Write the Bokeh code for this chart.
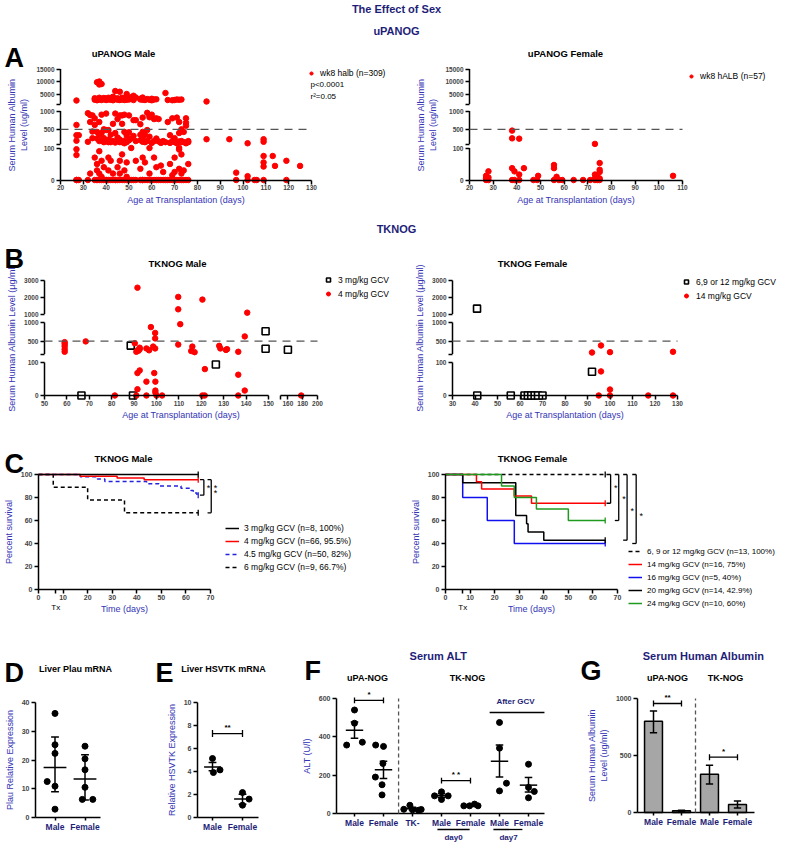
import math
from bokeh.plotting import figure
from bokeh.models import Label, Legend, LegendItem, FixedTicker, Arrow, Range1d
from bokeh.layouts import column, row
from bokeh.embed import file_html
from bokeh.resources import INLINE

FONT = "Liberation Sans"
NAVY = "#1e1e78"
BLUE = "#3434b4"
RED = "#ff0000"
GREEN = "#1f9a1f"
BAR_GREY = "#a6a6a6"
DASH_GREY = "#555555"

# ======================= DATA =======================
A_male_days = [27, 28, 32, 33, 34, 35, 36, 37, 38, 39, 40, 41, 42, 43, 44, 45, 46, 47, 48, 49,
               50, 51, 52, 53, 55, 56, 57, 58, 59, 60, 61, 62, 63, 64, 65, 66, 67, 68, 69, 70,
               71, 72, 73, 74, 75, 76, 84, 94, 97, 102, 105, 106, 109, 113, 114, 119, 125]
A_male_vals = [[2400, 620, 340, 190, 96, 78, 0, 0], [340, 0], [940, 160, 0], [890, 700, 20],
               [880, 440, 260], [2700, 3300, 800, 620, 70, 0], [3000, 2500, 9700, 430, 250, 50, 30, 0, 0],
               [10000, 8800, 3500, 2800, 700, 350, 180, 90, 20, 0], [9000, 3100, 2600, 900, 400, 200, 60, 10, 0],
               [2900, 3400, 500, 260, 150, 40, 0], [3200, 2600, 930, 480, 180, 0, 0],
               [3500, 2800, 480, 220, 150, 70, 30, 0], [3100, 2700, 350, 170, 150, 60, 0],
               [3900, 2500, 650, 180, 20, 0], [6200, 3000, 930, 400, 140, 0, 0], [3300, 2700, 780, 280, 40, 0],
               [5900, 3000, 2600, 880, 220, 150, 60, 20, 0], [3500, 2800, 880, 650, 150, 80, 0],
               [3000, 2600, 900, 430, 190, 120, 30, 0], [5000, 3300, 2700, 330, 150, 55, 10, 0],
               [3200, 2800, 880, 420, 200, 0], [3700, 3000, 250, 100, 0], [4300, 2600, 750, 320, 0],
               [3600, 750, 180, 60, 0], [3100, 2800, 640, 350, 200, 35, 0],
               [3600, 2700, 820, 430, 250, 160, 70, 0, 0], [2600, 350, 150, 55, 0], [3000, 950, 480, 180, 0],
               [2700, 880, 830, 300, 100, 20, 0], [3100, 2500, 900, 130, 0], [2800, 780, 180, 70, 0],
               [2900, 800, 250, 40, 0], [780, 170, 0], [130, 45, 0], [180, 25, 0], [5400, 150, 0],
               [2600, 700, 0], [340, 130, 50, 0], [2500, 800, 180, 15, 0], [2600, 260, 150, 70, 25, 0],
               [2800, 820, 120, 0], [2700, 700, 400, 170, 100, 95, 35, 0], [2800, 500, 180, 150, 80, 20, 0],
               [430, 150, 30, 0], [800, 680, 600, 140, 120, 0], [180, 150, 50, 0], [2000, 230], [230],
               [23, 0], [120, 12, 0], [0], [0], [230, 160, 75, 55, 42, 0], [75], [44], [60, 0], [44]]
A_female_days = [27, 28, 38, 39, 41, 43, 47, 48.6, 49, 55.7, 56.8, 57.8, 59.2, 64, 68, 71, 73, 74, 75, 106]
A_female_vals = [[13, 5, 0], [27, 8, 0], [465, 254, 37, 0], [27, 0], [246, 17, 0], [37], [0], [0], [13],
                 [47, 37, 0], [10], [0], [0], [0], [0], [0], [103, 17, 5, 0], [10, 0], [53, 32, 25, 5, 0], [13]]
A_y_labels = [0, 100, 500, 1000, 5000, 10000, 15000]
A_male_x_ticks = list(range(20, 131, 10))
A_female_x_ticks = list(range(20, 111, 10))

B_male4_days = [59, 59, 59, 59, 59, 68.4, 90.3, 91, 91.5, 92.5, 92.5, 92, 95.5, 96.7, 97.5, 98.5, 99.4, 99.4,
                99.4, 109.7, 109.7, 110.6, 109.7, 91.5, 120.5, 140.5, 139.4, 115.5, 116, 117, 128, 128.5,
                131, 131.5, 136.5, 91.5, 92.5, 95.5, 99, 99.5, 91.5, 99.5, 99.5, 121.6, 136.5, 139.4,
                81.4, 91, 95.5, 100, 102.5, 120.5, 121.5, 136.5, 178]
B_male4_vals = [470, 420, 360, 280, 210, 490, 440, 210, 250, 320, 280, 240, 300, 250, 876, 350, 300, 718,
                571, 2020, 1280, 955, 403, 2570, 1860, 1080, 624, 230, 350, 200, 370, 300, 260, 280, 210,
                68, 76, 42, 68, 42, 19, 15, 9, 80, 63, 15, 0, 0, 0, 0, 0, 0, 0, 0, 0]
B_male3_days = [66.5, 89.5, 88.5, 126.5, 148.7, 148.7, 160]
B_male3_vals = [0, 0, 376, 94, 763, 290, 263]
B_femlow_days = [40.9, 41, 55.9, 62, 63.5, 65, 66.5, 68, 70, 92]
B_femlow_vals = [1320, 0, 0, 0, 0, 0, 0, 0, 0, 72]
B_fem14_days = [92, 96, 100, 128, 96, 100, 95, 100, 117, 128]
B_fem14_vals = [190, 380, 200, 210, 73, 18, 0, 0, 0, 0]
B_y_labels = [0, 100, 500, 1000, 2000, 3000]
B_male_x_labels = [50, 60, 70, 80, 90, 100, 110, 120, 130, 140, 150, 160, 180, 200]
B_female_x_ticks = list(range(30, 131, 10))

C_male_labels = ["3 mg/kg GCV (n=8, 100%)", "4 mg/kg GCV (n=66, 95.5%)",
                 "4.5 mg/kg GCV (n=50, 82%)", "6 mg/kg GCV (n=9, 66.7%)"]
C_male_times = [[0, 65], [0, 17, 32, 43, 65], [0, 17, 24, 27, 44, 49, 58, 62, 63, 64.5, 65], [0, 6, 20, 35, 65]]
C_male_surv = [[100, 100], [100, 98.5, 97, 95.5, 95.5], [100, 98, 96, 94, 92, 90, 88, 86, 84, 82, 82],
               [100, 88.9, 77.8, 66.7, 66.7]]
C_female_labels = ["6, 9 or 12 mg/kg GCV (n=13, 100%)", "14 mg/kg GCV (n=16, 75%)", "16 mg/kg GCV (n=5, 40%)",
                   "20 mg/kg GCV (n=14, 42.9%)", "24 mg/kg GCV (n=10, 60%)"]
C_female_times = [[0, 65], [0, 12.6, 14.7, 28, 35, 65], [0, 7, 17, 28, 65], [0, 7, 28.6, 33, 33.6, 40, 65],
                  [0, 22.8, 28, 37, 50, 65]]
C_female_surv = [[100, 100], [100, 93.75, 87.5, 81.25, 75, 75], [100, 80, 60, 40, 40],
                 [100, 92.9, 64.3, 57.1, 50, 42.9, 42.9], [100, 90, 80, 70, 60, 60]]
C_x_ticks = [0, 10, 20, 30, 40, 50, 60, 70]
C_y_ticks = [0, 20, 40, 60, 80, 100]

D_groups = ["Male", "Female"]
D_points = [[36.2, 25.3, 22.3, 12.5, 10.9, 2.9], [24.8, 20.4, 16.6, 10.5, 6.3, 6.3]]
D_jitter = [[0, 0, 0, -0.26, 0, 0], [0, 0, 0, 0, -0.09, 0.26]]
D_mean = [17.4, 13.4]
D_low = [9.0, 6.1]
D_high = [28.0, 21.8]

E_groups = ["Male", "Female"]
E_points = [[5.13, 3.91, 4.14], [2.17, 1.07, 1.6]]
E_jitter = [[0, 0.03, 0.25], [0, 0, 0.22]]
E_mean = [4.4, 1.6]
E_low = [4.06, 1.16]
E_high = [4.78, 2.03]

F_groups = ["Male", "Female", "TK-", "Male", "Female", "Male", "Female"]
F_points = [[540, 372, 357, 471], [357, 350, 261, 190, 150, 97], [43, 22, 19, 17, 21],
            [113, 92, 92, 73], [40, 40, 49, 40], [475, 341, 158, 118], [257, 136, 115, 82]]
F_jitter = [[0, 0.27, -0.27, 0.0], [-0.27, 0.0, -0.02, -0.28, -0.05, -0.05], [-0.09, -0.3, 0.0, 0.2, 0.3],
            [0, -0.24, 0.23, 0], [-0.23, -0.03, 0.14, 0.26], [0, 0, 0.24, 0], [0, 0, 0.2, 0]]
F_mean = [435, 228, 25, 93, 42, 273, 148]
F_low = [392, 183, 18, 83, 39, 190, 112]
F_high = [477, 273, 32, 103, 46, 357, 188]

G_groups = ["Male", "Female", "Male", "Female"]
G_mean = [800, 15, 335, 70]
G_low = [700, 10, 250, 40]
G_high = [890, 20, 415, 100]

# ======================= HELPERS =======================
A_SEGS = [(0, 100, 0, 32), (100, 1000, 36, 69), (1000, 15000, 76, 111)]
B_SEGS = [(0, 100, 0, 33), (150, 1000, 41.5, 73), (1000, 3000, 81.5, 115)]
BX_SEGS = [(50, 150, 0, 224), (150, 200, 236, 273)]


def seg_map(v, segs):
    for v0, v1, p0, p1 in segs:
        if v <= v1:
            return p0 + (v - v0) / (v1 - v0) * (p1 - p0)
    v0, v1, p0, p1 = segs[-1]
    return p0 + (v - v0) / (v1 - v0) * (p1 - p0)


def broken_ticks(segs, labels, extra=None):
    ticks = {}
    for v0, v1, p0, p1 in segs:
        ticks.setdefault(round(p0, 3), "")
        ticks.setdefault(round(p1, 3), "")
    for v in labels:
        ticks[round(seg_map(v, segs), 3)] = str(v)
    if extra:
        for k, t in extra.items():
            ticks[round(k, 3)] = t
    return ticks


def flatten(days, groups):
    xs, ys = [], []
    for d, vals in zip(days, groups):
        for v in vals:
            xs.append(d)
            ys.append(v)
    return xs, ys


class Frame:
    """Maps page pixel positions to data coordinates for a figure whose frame fills its canvas."""
    def __init__(self, X0, Y0, W, H, xmap, ymap):
        self.X0, self.Y1 = X0, Y0 + H
        v1, a1, v2, a2 = xmap
        self.sx = (a2 - a1) / (v2 - v1)
        self.x0 = v1 - (a1 - X0) / self.sx
        self.x1 = self.x0 + W / self.sx
        v1, b1, v2, b2 = ymap
        self.sy = (b1 - b2) / (v2 - v1)
        self.y0 = v1 - (self.Y1 - b1) / self.sy
        self.y1 = self.y0 + H / self.sy

    def fx(self, px):
        return self.x0 + (px - self.X0) / self.sx

    def fy(self, py):
        return self.y0 + (self.Y1 - py) / self.sy


def style_axis(ax, tick_size):
    ax.axis_line_width = 1.5
    ax.major_tick_line_width = 1.5
    ax.major_tick_in = 0
    ax.major_tick_out = 4
    ax.minor_tick_line_color = None
    ax.major_label_text_font = FONT
    ax.major_label_text_font_size = tick_size
    ax.major_label_text_font_style = "bold"
    ax.major_label_standoff = 2
    ax.axis_label_text_font = FONT
    ax.axis_label_text_font_size = "9px"
    ax.axis_label_text_font_style = "normal"
    ax.axis_label_text_color = BLUE
    ax.axis_label_standoff = 4


def make_fig(W, H, X0, Y0, xmap, ymap, tick_size="7px"):
    fr = Frame(X0, Y0, W, H, xmap, ymap)
    p = figure(width=W, height=H, x_range=Range1d(fr.x0, fr.x1), y_range=Range1d(fr.y0, fr.y1),
               min_border=0, output_backend="svg", toolbar_location=None, title=None)
    p.outline_line_color = None
    p.xgrid.visible = False
    p.ygrid.visible = False
    for ax in p.axis:
        style_axis(ax, tick_size)
    p.xaxis.major_label_standoff = 1
    p.xaxis.axis_label_standoff = 1
    return p, fr


def txt(p, fr, px, py, text, size="9px", bold=True, color="black", align="center", baseline="middle"):
    p.add_layout(Label(x=fr.fx(px), y=fr.fy(py), text=text, text_font=FONT,
                       text_font_size=size, text_font_style="bold" if bold else "normal",
                       text_color=color, text_align=align, text_baseline=baseline))


def letter(p, fr, px, py, text):
    txt(p, fr, px, py, text, size="27px", align="left", baseline="alphabetic")


def dtxt(p, x, y, text, dy=0, size="9px", bold=False, align="center"):
    p.add_layout(Label(x=x, y=y, y_offset=dy, text=text, text_font=FONT, text_font_size=size,
                       text_font_style="bold" if bold else "normal", text_color="black",
                       text_align=align, text_baseline="middle"))


def ln(p, x0, y0, x1, y1, color="black", width=1.5, dash="solid"):
    p.add_layout(Arrow(start=None, end=None, x_start=x0, y_start=y0, x_end=x1, y_end=y1,
                       line_color=color, line_width=width, line_dash=dash))


def set_ticks(ax, ticks_dict):
    keys = sorted(ticks_dict.keys())
    ax.ticker = FixedTicker(ticks=keys, minor_ticks=[])
    ax.major_label_overrides = {k: ticks_dict[k] for k in keys}


def broken_y(p, segs, ticks, x0):
    ax = p.yaxis[0]
    ax.axis_line_color = None
    set_ticks(ax, ticks)
    for v0, v1, p0, p1 in segs:
        ln(p, x0, p0, x0, p1)


def add_legend(p, items, location, size="8.5px", glyph_w=10, row_h=12):
    lg = Legend(items=items, location=location)
    lg.label_text_font = FONT
    lg.label_text_font_size = size
    lg.label_text_color = "black"
    lg.border_line_color = None
    lg.background_fill_alpha = 0
    lg.padding = 2
    lg.spacing = 1
    lg.margin = 0
    lg.glyph_width = glyph_w
    lg.glyph_height = row_h
    lg.label_height = row_h
    lg.label_standoff = 5
    p.add_layout(lg, "center")


def header(Y0, h, texts):
    fr = Frame(0, Y0, 792, h, (0, 0, 1, 1), (0, Y0 + h, 1, Y0 + h - 1))
    p = figure(width=792, height=h, x_range=Range1d(fr.x0, fr.x1), y_range=Range1d(fr.y0, fr.y1),
               min_border=0, output_backend="svg", toolbar_location=None, title=None,
               x_axis_location=None, y_axis_location=None)
    p.outline_line_color = None
    p.xgrid.visible = False
    p.ygrid.visible = False
    for t, px, py in texts:
        txt(p, fr, px, py, t, size="11px", color=NAVY)
    return p


AGE = "Age at Transplantation (days)"

h1 = header(0, 38, [("The Effect of Sex", 396, 8), ("uPANOG", 396, 30)])
h2 = header(213, 23, [("TKNOG", 396, 228)])


# ======================= A =======================
def panel_A(X0, W, xmap, xmax, xticks, days, vals, legend_label, legend_loc, title, title_x):
    p, fr = make_fig(W, 175, X0, 38, xmap, (0, 179.5, 111, 68.5), "6.5px")
    p.xaxis.fixed_location = 0
    p.xaxis.bounds = (20, xmax)
    p.yaxis.fixed_location = 20
    p.yaxis.bounds = (0, 111)
    set_ticks(p.xaxis[0], {v: str(v) for v in xticks})
    p.xaxis.axis_label = AGE
    p.yaxis.axis_label = "Serum Human Albumin\nLevel (ug/ml)"
    broken_y(p, A_SEGS, broken_ticks(A_SEGS, A_y_labels), 20)
    y500 = seg_map(500, A_SEGS)
    ln(p, 20, y500, xmax, y500, color=DASH_GREY, width=1.2, dash="8 6")
    xs, ys = flatten(days, vals)
    r = p.scatter(xs, [seg_map(v, A_SEGS) for v in ys], size=5.5, color=RED)
    add_legend(p, [LegendItem(label=legend_label, renderers=[r])], legend_loc, glyph_w=8)
    txt(p, fr, title_x, 53, title, size="9.5px")
    return p, fr


pAL, fAL = panel_A(0, 408, (20, 60, 130, 311), 130, A_male_x_ticks, A_male_days, A_male_vals,
                   "wk8 halb (n=309)", (307, 134), "uPANOG Male", 123)
letter(pAL, fAL, 4, 57, "A")
txt(pAL, fAL, 310, 84, "p<0.0001", size="8px", bold=False, align="left")
txt(pAL, fAL, 310, 96, "r\u00b2=0.05", size="8px", bold=False, align="left")
pAR, fAR = panel_A(408, 384, (20, 469, 110, 682), 110, A_female_x_ticks, A_female_days, A_female_vals,
                   "wk8 hALB (n=57)", (279, 131), "uPANOG Female", 565)

# ======================= B =======================
B_ticks = broken_ticks(B_SEGS, B_y_labels, {81.5: "1000"})


def panel_B(X0, W, xmap, x_axis_at, title, title_x):
    p, fr = make_fig(W, 186, X0, 236, xmap, (0, 395, 115, 280), "6.5px")
    p.xaxis.fixed_location = 0
    p.yaxis.fixed_location = x_axis_at
    p.yaxis.bounds = (0, 115)
    broken_y(p, B_SEGS, B_ticks, x_axis_at)
    p.xaxis.axis_label = AGE
    p.yaxis.axis_label = "Serum Human Albumin Level (\u03bcg/ml)"
    txt(p, fr, title_x, 263, title, size="9.5px")
    return p, fr


pBL, fBL = panel_B(0, 408, (0, 44, 273, 317), 0, "TKNOG Male", 177)
pBL.xaxis.axis_line_color = None
pBL.xaxis.bounds = (0, 273)
bx = {}
for v0, v1, p0, p1 in BX_SEGS:
    bx[round(p0, 3)] = ""
    bx[round(p1, 3)] = ""
for v in B_male_x_labels:
    bx[round(seg_map(v, BX_SEGS), 3)] = str(v)
set_ticks(pBL.xaxis[0], bx)
for v0, v1, p0, p1 in BX_SEGS:
    ln(pBL, p0, 0, p1, 0)
ln(pBL, 0, seg_map(500, B_SEGS), 273, seg_map(500, B_SEGS), color=DASH_GREY, width=1.2, dash="8 6")
rB3 = pBL.scatter([seg_map(d, BX_SEGS) for d in B_male3_days], [seg_map(v, B_SEGS) for v in B_male3_vals],
                  marker="square", size=7, fill_color="white", line_color="black", line_width=1.6)
rB4 = pBL.scatter([seg_map(d, BX_SEGS) for d in B_male4_days], [seg_map(v, B_SEGS) for v in B_male4_vals],
                  size=5.5, color=RED)
add_legend(pBL, [LegendItem(label="3 mg/kg GCV", renderers=[rB3]),
                 LegendItem(label="4 mg/kg GCV", renderers=[rB4])], (323, 122), row_h=13)
letter(pBL, fBL, 4, 258, "B")

pBR, fBR = panel_B(408, 384, (30, 452, 130, 677), 30, "TKNOG Female", 532)
pBR.xaxis.bounds = (30, 130)
set_ticks(pBR.xaxis[0], {v: str(v) for v in B_female_x_ticks})
ln(pBR, 30, seg_map(500, B_SEGS), 130, seg_map(500, B_SEGS), color=DASH_GREY, width=1.2, dash="8 6")
rB5 = pBR.scatter(B_femlow_days, [seg_map(v, B_SEGS) for v in B_femlow_vals],
                  marker="square", size=7, fill_color="white", line_color="black", line_width=1.6)
rB6 = pBR.scatter(B_fem14_days, [seg_map(v, B_SEGS) for v in B_fem14_vals], size=5.5, color=RED)
add_legend(pBR, [LegendItem(label="6,9 or 12 mg/kg GCV", renderers=[rB5]),
                 LegendItem(label="14 mg/kg GCV", renderers=[rB6])], (273, 120), size="8.5px", row_h=13)


# ======================= C =======================
def panel_C(X0, W, xmap, times, survs, colors, dashes, order, title, title_x):
    p, fr = make_fig(W, 193, X0, 422, xmap, (0, 589, 100, 474), "7px")
    p.xaxis.fixed_location = 0
    p.xaxis.bounds = (0, 70)
    p.yaxis.fixed_location = 0
    p.yaxis.bounds = (0, 100)
    xt = {v: str(v) for v in C_x_ticks}
    xt[7] = ""
    set_ticks(p.xaxis[0], xt)
    set_ticks(p.yaxis[0], {v: str(v) for v in C_y_ticks})
    p.xaxis.axis_label = "Time (days)"
    p.yaxis.axis_label = "Percent survival"
    rends = [None] * len(times)
    for i in order:
        rends[i] = p.step(times[i], survs[i], mode="after", line_color=colors[i],
                          line_width=1.5, line_dash=dashes[i])
        # censor tick at the end of each curve
        p.scatter([times[i][-1]], [survs[i][-1]], marker="dash", angle=math.pi / 2, size=6,
                  line_color=colors[i], line_width=1.3)
    txt(p, fr, xmap[1] + 7 * fr.sx, 607, "Tx", size="8px", bold=False)
    txt(p, fr, title_x, 458, title, size="9.5px")
    return p, fr, rends


def bracket(p, x_v, x_cap, top, bottom):
    ln(p, x_cap, top, x_v, top, width=1.3)
    ln(p, x_v, top, x_v, bottom, width=1.3)
    ln(p, x_cap, bottom, x_v, bottom, width=1.3)


pCL, fCL, rCL = panel_C(0, 408, (0, 38, 70, 210), C_male_times, C_male_surv,
                        ["black", RED, "#2323dd", "black"], ["solid", "solid", "4 3", "4 3"], [3, 2, 1, 0],
                        "TKNOG Male", 123)
bracket(pCL, 67.3, 65.7, 95.5, 82)
dtxt(pCL, 68.5, 88.5, "*", align="left")
bracket(pCL, 70.3, 68.8, 95.5, 66.7)
dtxt(pCL, 71.3, 88.5, "*", align="left")
dtxt(pCL, 71.3, 83.5, "*", align="left")
add_legend(pCL, [LegendItem(label=lab, renderers=[r]) for lab, r in zip(C_male_labels, rCL)],
           (225, 42), glyph_w=14, row_h=12)
letter(pCL, fCL, 4, 463, "C")

pCR, fCR, rCR = panel_C(408, 384, (0, 445, 70, 617), C_female_times, C_female_surv,
                        ["black", RED, "#1010ee", "black", GREEN], ["4 3", "solid", "solid", "solid", "solid"],
                        [0, 2, 3, 1, 4], "TKNOG Female", 532)
for xv, xc, bot, sx, sy in [(67.2, 65.5, 75, 68.6, 88), (70.5, 68.9, 60, 71.9, 79),
                            (73.9, 72.3, 42.9, 75.3, 68), (77.6, 76.0, 40, 79.0, 64)]:
    bracket(pCR, xv, xc, 100, bot)
    dtxt(pCR, sx, sy, "*", align="left")
add_legend(pCR, [LegendItem(label=lab, renderers=[r]) for lab, r in zip(C_female_labels, rCR)],
           (220, 6), size="8px", glyph_w=14, row_h=12)


# ======================= D / E / F =======================
def cat_axis(p, groups):
    set_ticks(p.xaxis[0], {i: g for i, g in enumerate(groups)})
    p.xaxis.major_label_text_color = NAVY
    p.xaxis.major_label_text_font_size = "8.5px"
    p.xaxis.major_tick_out = 3
    p.xaxis.major_label_standoff = 1


def dot_panel(X0, W, xmap, ymap, yaxis_x, xmax, ytop, yticks, groups, pts, jit, mean, lo, hi, half, ylabel):
    p, fr = make_fig(W, 232, X0, 615, xmap, ymap, "7px")
    p.xaxis.fixed_location = 0
    p.xaxis.bounds = (yaxis_x, xmax)
    p.yaxis.fixed_location = yaxis_x
    p.yaxis.bounds = (0, ytop)
    set_ticks(p.yaxis[0], {v: str(v) for v in yticks})
    cat_axis(p, groups)
    p.yaxis.axis_label = ylabel
    for i in range(len(groups)):
        p.scatter([i + j for j in jit[i]], pts[i], size=6, color="black")
    xi = list(range(len(groups)))
    p.segment([i - half for i in xi], mean, [i + half for i in xi], mean, line_color="black", line_width=1.5)
    p.segment(xi, lo, xi, hi, line_color="black", line_width=1.5)
    p.segment([i - 0.13 for i in xi], lo, [i + 0.13 for i in xi], lo, line_color="black", line_width=1.5)
    p.segment([i - 0.13 for i in xi], hi, [i + 0.13 for i in xi], hi, line_color="black", line_width=1.5)
    return p, fr


pD, fD = dot_panel(0, 155, (0, 54.5, 1, 84.5), (0, 817, 40, 702), -0.65, 1.52, 40, [0, 10, 20, 30, 40],
                   D_groups, D_points, D_jitter, D_mean, D_low, D_high, 0.38, "Plau Relative Expression")
letter(pD, fD, 4, 672, "D")
txt(pD, fD, 75, 668, "Liver Plau mRNA", size="9px")

pE, fE = dot_panel(155, 145, (0, 212, 1, 242), (0, 817, 10, 702), -0.5, 1.53, 10, [0, 2, 4, 6, 8, 10],
                   E_groups, E_points, E_jitter, E_mean, E_low, E_high, 0.28, "Relative HSVTK Expression")
pE.segment([0, 0, 1], [7.3, 7.0, 7.0], [1, 0, 1], [7.3, 7.6, 7.6], line_color="black", line_width=1.3)
dtxt(pE, 0.5, 7.3, "**", dy=6, size="8px", bold=True)
letter(pE, fE, 155, 672, "E")
txt(pE, fE, 223, 668, "Liver HSVTK mRNA", size="9px")

pF, fF = dot_panel(300, 270, (0, 354, 1, 383), (0, 813, 600, 698), -0.62, 6.55, 600, [0, 200, 400, 600],
                   F_groups, F_points, F_jitter, F_mean, F_low, F_high, 0.3, "ALT (U/l)")
ln(pF, 1.52, 0, 1.52, 600, color=DASH_GREY, width=1.3, dash="4 3")
pF.segment([0, 0, 1, 3, 3, 4], [590, 575, 575, 172, 157, 157], [1, 0, 1, 4, 3, 4], [590, 605, 605, 172, 187, 187],
           line_color="black", line_width=1.3)
dtxt(pF, 0.5, 590, "*", dy=6, size="8px", bold=True)
dtxt(pF, 3.5, 172, "* *", dy=6, size="8px", bold=True)
txt(pF, fF, 515, 701, "After GCV", size="8px", color=NAVY)
ln(pF, 4.66, fF.fy(712), 6.55, fF.fy(712), width=1.3)
ln(pF, 2.86, fF.fy(829), 3.97, fF.fy(829), width=1.3)
ln(pF, 4.79, fF.fy(829), 5.79, fF.fy(829), width=1.3)
txt(pF, fF, 453, 837, "day0", size="8px", color=NAVY)
txt(pF, fF, 508, 837, "day7", size="8px", color=NAVY)
letter(pF, fF, 304, 670, "F")
txt(pF, fF, 438, 655, "Serum ALT", size="11px", color=NAVY)
txt(pF, fF, 367, 677, "uPA-NOG", size="9px")
txt(pF, fF, 467, 677, "TK-NOG", size="9px")

# ======================= G =======================
pG, fG = make_fig(222, 232, 570, 615, (0, 653, 1, 681), (0, 812, 1000, 698), "7px")
pG.xaxis.fixed_location = 0
pG.xaxis.bounds = (-0.571, 3.61)
pG.yaxis.fixed_location = -0.571
pG.yaxis.bounds = (0, 1000)
set_ticks(pG.yaxis[0], {0: "0", 500: "500", 1000: "1000"})
cat_axis(pG, G_groups)
pG.yaxis.axis_label = "Serum Human Albumin\nLevel (ug/ml)"
gx = list(range(len(G_groups)))
pG.vbar(x=gx, top=G_mean, width=0.64, fill_color=BAR_GREY, line_color="black", line_width=1.5)
pG.segment(gx, G_low, gx, G_high, line_color="black", line_width=1.5)
pG.segment([i - 0.13 for i in gx], G_low, [i + 0.13 for i in gx], G_low, line_color="black", line_width=1.5)
pG.segment([i - 0.13 for i in gx], G_high, [i + 0.13 for i in gx], G_high, line_color="black", line_width=1.5)
ln(pG, 1.5, 0, 1.5, 1000, color=DASH_GREY, width=1.3, dash="4 3")
pG.segment([0, 0, 1, 2, 2, 3], [956, 930, 930, 485, 459, 459], [1, 0, 1, 3, 2, 3], [956, 982, 982, 485, 511, 511],
           line_color="black", line_width=1.3)
dtxt(pG, 0.5, 956, "**", dy=6, size="8px", bold=True)
dtxt(pG, 2.5, 485, "*", dy=6, size="8px", bold=True)
letter(pG, fG, 580, 670, "G")
txt(pG, fG, 703, 655, "Serum Human Albumin", size="11px", color=NAVY)
txt(pG, fG, 667, 677, "uPA-NOG", size="9px")
txt(pG, fG, 725, 677, "TK-NOG", size="9px")

layout = column(h1, row(pAL, pAR), h2, row(pBL, pBR), row(pCL, pCR), row(pD, pE, pF, pG))
open("out.html", "w").write(file_html(layout, INLINE))
